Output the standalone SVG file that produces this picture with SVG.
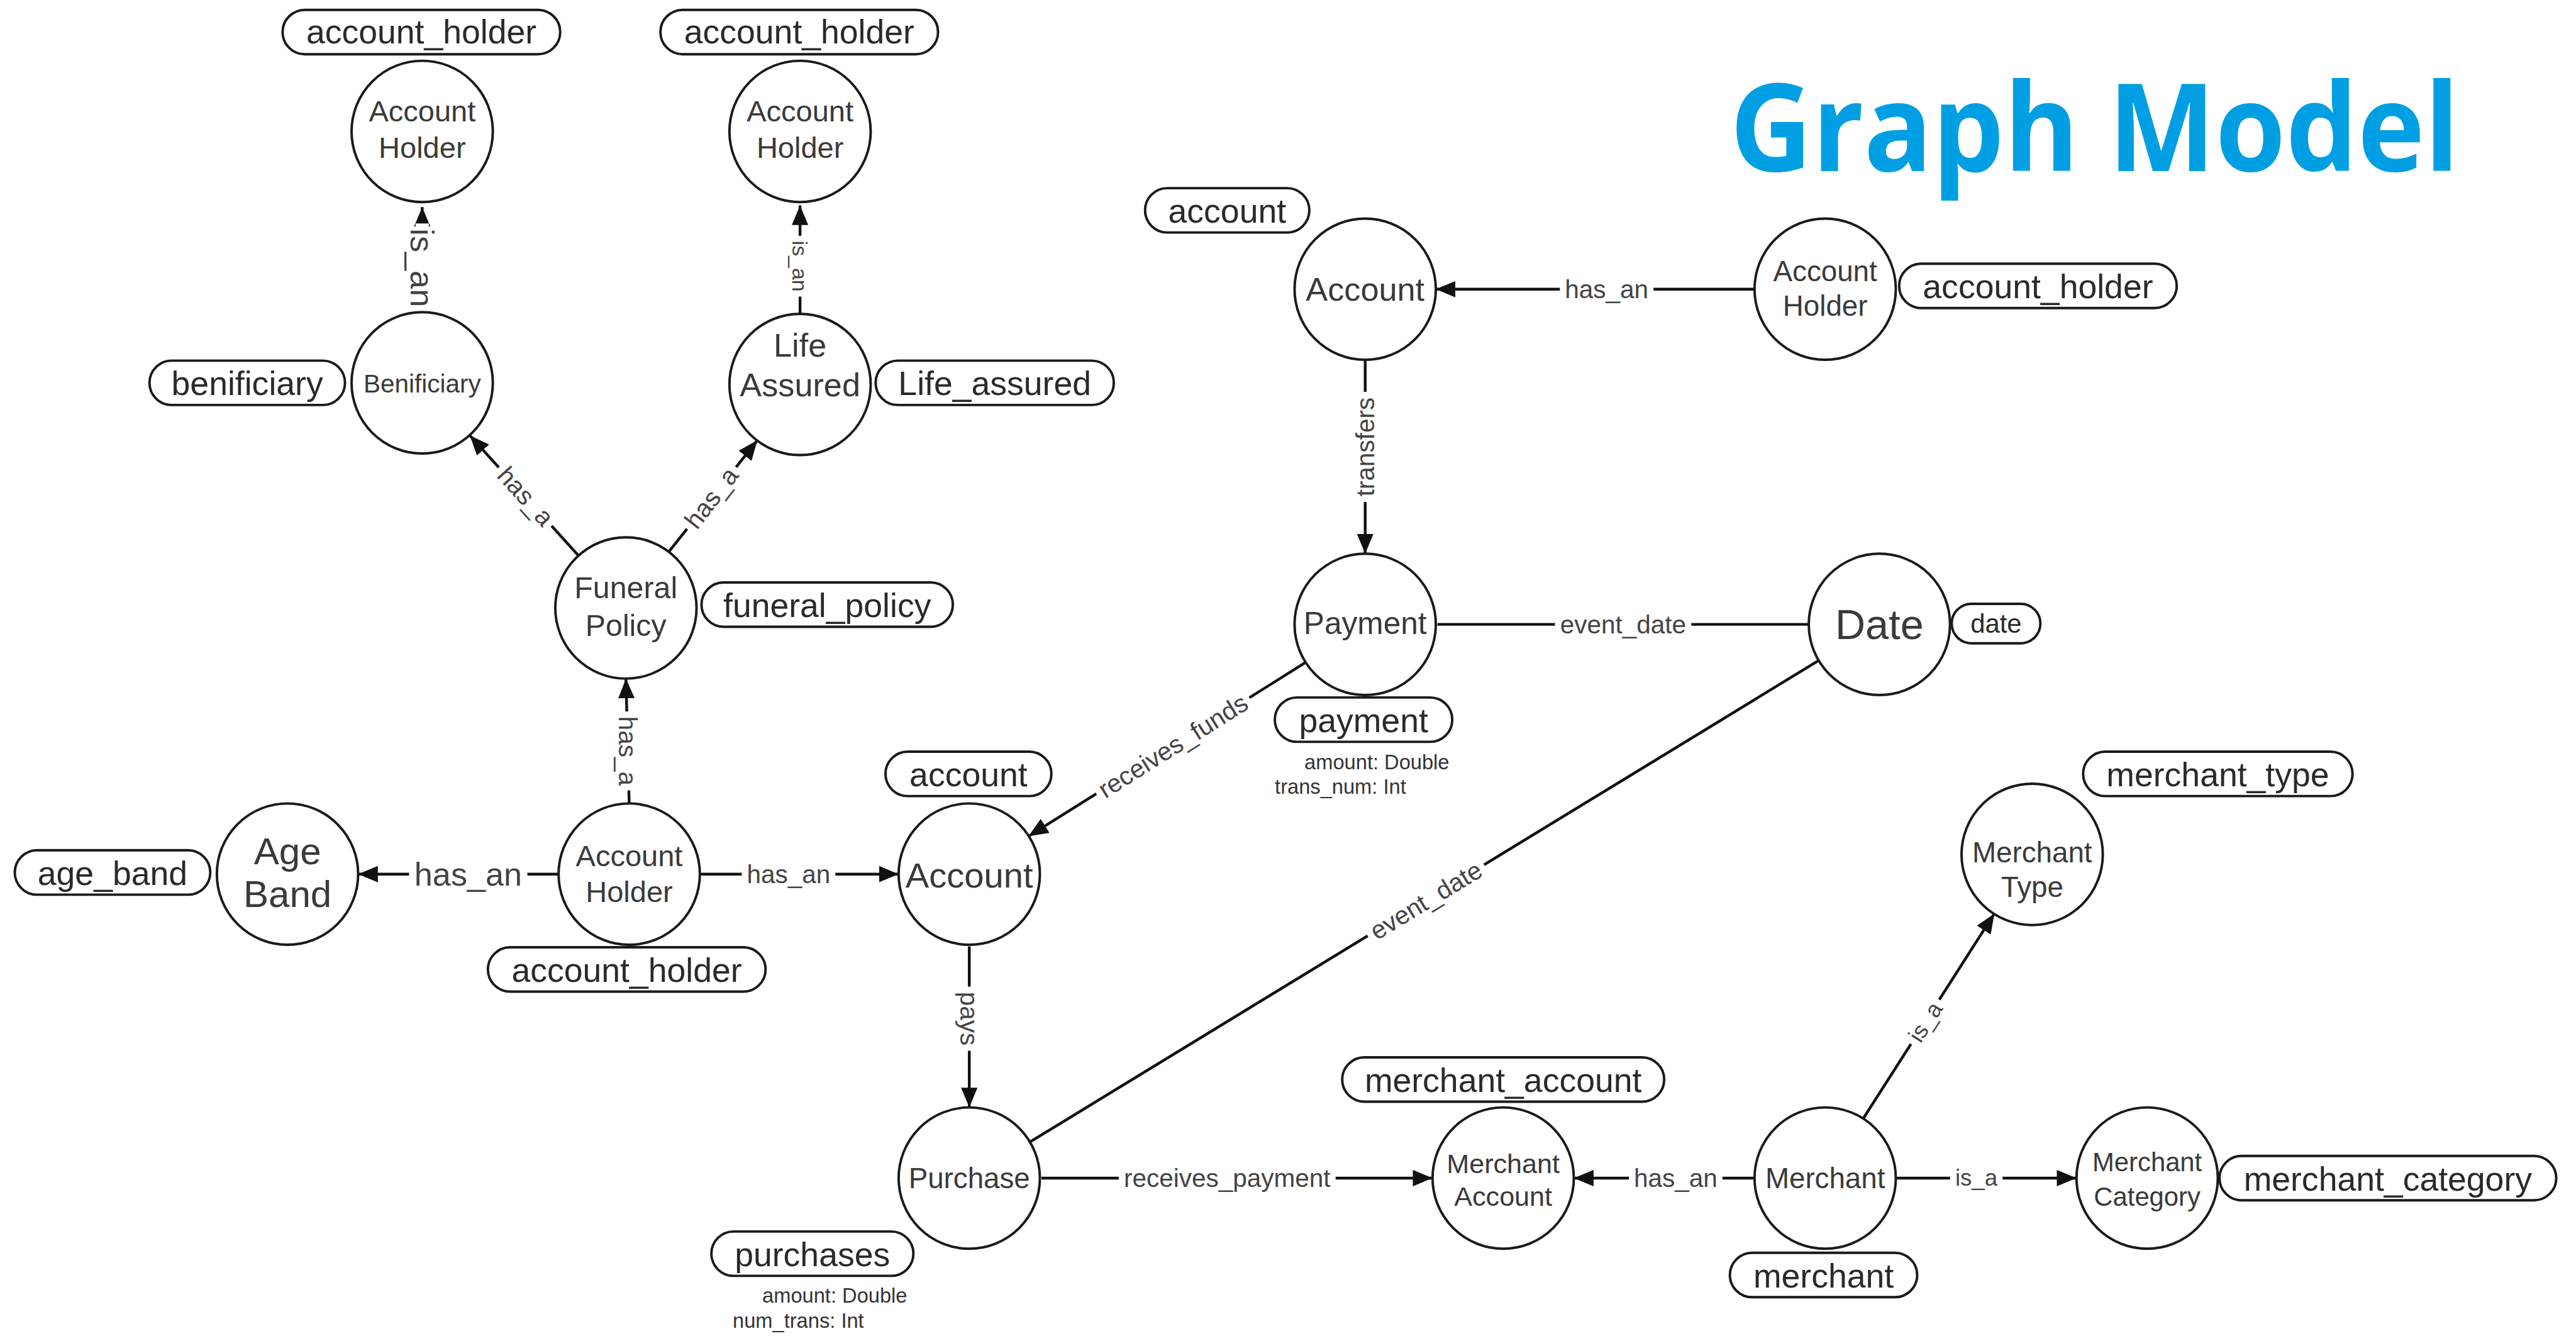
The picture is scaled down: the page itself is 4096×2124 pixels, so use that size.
<svg xmlns="http://www.w3.org/2000/svg" width="4096" height="2124" viewBox="0 0 4096 2124">
<style>
.n{fill:#fff;stroke:#1a1a1a;stroke-width:1.5}
.nt{font-family:"Liberation Sans",Arial,sans-serif;fill:#3a3a3a;text-anchor:middle}
.p{fill:#fff;stroke:#1a1a1a;stroke-width:1.5}
.pt{font-family:"Liberation Sans",Arial,sans-serif;fill:#2a2a2a;text-anchor:middle;font-size:20.5px}
.pr{font-family:"Liberation Sans",Arial,sans-serif;fill:#333;font-size:12.5px}
.e{fill:none;stroke:#111;stroke-width:1.7}
.a{marker-end:url(#arr)}
.lb{fill:#fff}
.el{font-family:"Liberation Sans",Arial,sans-serif;fill:#444;font-size:15.5px;text-anchor:middle;dominant-baseline:central}
.title{font-family:"Open Sans","Noto Sans",sans-serif;font-weight:bold;fill:#009FE3;font-size:74px}
</style>
<defs>
<marker id="arr" viewBox="0 0 12 10" markerWidth="12" markerHeight="10" refX="12" refY="5" orient="auto" markerUnits="userSpaceOnUse">
<path d="M0,0 L12,5 L0,10 Z" fill="#111"/>
</marker>
</defs>
<rect width="4096" height="2124" fill="#fff"/>
<g transform="scale(2.6122)">
<text class="title" x="1053" y="104" textLength="444" lengthAdjust="spacingAndGlyphs">Graph Model</text>

<g id="connectors">
<g id="e-ben-ah1"><path class="e a" d="M257,190 L257,126"/><g transform="translate(257,163) rotate(90)"><rect class="lb" x="-27" y="-4" width="54" height="8"/><text class="el" style="font-size:20px">is_an</text></g></g>
<g id="e-la-ah2"><path class="e a" d="M487,191 L487,125"/><g transform="translate(487,162) rotate(90)"><rect class="lb" x="-18.5" y="-4" width="37" height="8"/><text class="el" style="font-size:13px">is_an</text></g></g>
<g id="e-fp-ben"><path class="e a" d="M352,338 L286,265"/><g transform="translate(320,302) rotate(47.8)"><rect class="lb" x="-24" y="-4" width="48" height="8"/><text class="el">has_a</text></g></g>
<g id="e-fp-la"><path class="e a" d="M407,336 L461,268"/><g transform="translate(433,303) rotate(-52.1)"><rect class="lb" x="-24" y="-4" width="48" height="8"/><text class="el">has_a</text></g></g>
<g id="e-ahm-fp"><path class="e a" d="M383,489 L381,413"/><g transform="translate(382,457) rotate(90)"><rect class="lb" x="-24" y="-4" width="48" height="8"/><text class="el">has_a</text></g></g>
<g id="e-ahm-age"><path class="e a" d="M340,532 L218,532"/><g transform="translate(285,532)"><rect class="lb" x="-36" y="-4" width="72" height="8"/><text class="el" style="font-size:20px">has_an</text></g></g>
<g id="e-ahm-acc"><path class="e a" d="M426,532 L547,532"/><g transform="translate(480,532)"><rect class="lb" x="-28.5" y="-4" width="57" height="8"/><text class="el">has_an</text></g></g>
<g id="e-pay-acc"><path class="e a" d="M795,403 L626,509"/><g transform="translate(714,454) rotate(-32.2)"><rect class="lb" x="-55" y="-4" width="110" height="8"/><text class="el">receives_funds</text></g></g>
<g id="e-acc-pur"><path class="e a" d="M590,576 L590,674"/><g transform="translate(590,620) rotate(90)"><rect class="lb" x="-19.5" y="-4" width="39" height="8"/><text class="el">pays</text></g></g>
<g id="e-pur-date"><path class="e" d="M627,695 L1107,402"/><g transform="translate(868,548) rotate(-31.4)"><rect class="lb" x="-41.5" y="-4" width="83" height="8"/><text class="el">event_date</text></g></g>
<g id="e-pay-date"><path class="e" d="M875,380 L1101,380"/><g transform="translate(988,380)"><rect class="lb" x="-41.5" y="-4" width="83" height="8"/><text class="el">event_date</text></g></g>
<g id="e-acct-pay"><path class="e a" d="M831,219 L831,337"/><g transform="translate(831,272) rotate(-90)"><rect class="lb" x="-33.5" y="-4" width="67" height="8"/><text class="el">transfers</text></g></g>
<g id="e-aht-acct"><path class="e a" d="M1068,176 L874,176"/><g transform="translate(978,176)"><rect class="lb" x="-28.5" y="-4" width="57" height="8"/><text class="el">has_an</text></g></g>
<g id="e-pur-ma"><path class="e a" d="M634,717 L872,717"/><g transform="translate(747,717)"><rect class="lb" x="-66" y="-4" width="132" height="8"/><text class="el">receives_payment</text></g></g>
<g id="e-mer-ma"><path class="e a" d="M1068,717 L958,717"/><g transform="translate(1020,717)"><rect class="lb" x="-28.5" y="-4" width="57" height="8"/><text class="el">has_an</text></g></g>
<g id="e-mer-mc"><path class="e a" d="M1154,717 L1264,717"/><g transform="translate(1203,717)"><rect class="lb" x="-16" y="-4" width="32" height="8"/><text class="el" style="font-size:14px">is_a</text></g></g>
<g id="e-mer-mt"><path class="e a" d="M1134,681 L1214,556"/><g transform="translate(1172,622) rotate(-57.4)"><rect class="lb" x="-16" y="-4" width="32" height="8"/><text class="el" style="font-size:14px">is_a</text></g></g>
</g>

<g id="n-ah1"><circle class="n" cx="257" cy="80" r="43"/><text class="nt" style="font-size:18px"><tspan x="257" y="74">Account</tspan><tspan x="257" y="96">Holder</tspan></text>
<rect class="p" x="172" y="6" width="169" height="27" rx="13.5"/><text class="pt" x="256.5" y="26.5">account_holder</text></g>

<g id="n-ben"><circle class="n" cx="257" cy="233" r="43"/><text class="nt" style="font-size:15.5px" x="257" y="239">Benificiary</text>
<rect class="p" x="91" y="219.5" width="119" height="27" rx="13.5"/><text class="pt" x="150.5" y="240.5">benificiary</text></g>

<g id="n-ah2"><circle class="n" cx="487" cy="80" r="43"/><text class="nt" style="font-size:18px"><tspan x="487" y="74">Account</tspan><tspan x="487" y="96">Holder</tspan></text>
<rect class="p" x="402" y="6" width="169" height="27" rx="13.5"/><text class="pt" x="486.5" y="26.5">account_holder</text></g>

<g id="n-la"><circle class="n" cx="487" cy="234" r="43"/><text class="nt" style="font-size:20px"><tspan x="487" y="217">Life</tspan><tspan x="487" y="241">Assured</tspan></text>
<rect class="p" x="533" y="219.5" width="145" height="27" rx="13.5"/><text class="pt" x="605.5" y="240.5">Life_assured</text></g>

<g id="n-fp"><circle class="n" cx="381" cy="370" r="43"/><text class="nt" style="font-size:18.5px"><tspan x="381" y="364">Funeral</tspan><tspan x="381" y="387">Policy</tspan></text>
<rect class="p" x="427" y="354.5" width="153" height="27" rx="13.5"/><text class="pt" x="503.5" y="375.5">funeral_policy</text></g>

<g id="n-ahm"><circle class="n" cx="383" cy="532" r="43"/><text class="nt" style="font-size:18px"><tspan x="383" y="527">Account</tspan><tspan x="383" y="549">Holder</tspan></text>
<rect class="p" x="297" y="576.5" width="169" height="27" rx="13.5"/><text class="pt" x="381.5" y="597.5">account_holder</text></g>

<g id="n-age"><circle class="n" cx="175" cy="532" r="43"/><text class="nt" style="font-size:23px"><tspan x="175" y="526">Age</tspan><tspan x="175" y="552">Band</tspan></text>
<rect class="p" x="9" y="517.5" width="119" height="27" rx="13.5"/><text class="pt" x="68.5" y="538.5">age_band</text></g>

<g id="n-accm"><circle class="n" cx="590" cy="532" r="43"/><text class="nt" style="font-size:21.5px" x="590" y="540">Account</text>
<rect class="p" x="539" y="457.5" width="101" height="27" rx="13.5"/><text class="pt" x="589.5" y="478.5">account</text></g>

<g id="n-pur"><circle class="n" cx="590" cy="717" r="43"/><text class="nt" style="font-size:17.5px" x="590" y="723">Purchase</text>
<rect class="p" x="433" y="749.5" width="123" height="27" rx="13.5"/><text class="pt" x="494.5" y="770.5">purchases</text>
<text class="pr" x="464" y="793">amount: Double</text><text class="pr" x="446" y="808">num_trans: Int</text></g>

<g id="n-acct"><circle class="n" cx="831" cy="176" r="43"/><text class="nt" style="font-size:20px" x="831" y="183">Account</text>
<rect class="p" x="697" y="114.5" width="100" height="27" rx="13.5"/><text class="pt" x="747" y="135.5">account</text></g>

<g id="n-aht"><circle class="n" cx="1111" cy="176" r="43"/><text class="nt" style="font-size:17.5px"><tspan x="1111" y="171">Account</tspan><tspan x="1111" y="192">Holder</tspan></text>
<rect class="p" x="1156" y="160.5" width="169" height="27" rx="13.5"/><text class="pt" x="1240.5" y="181.5">account_holder</text></g>

<g id="n-pay"><circle class="n" cx="831" cy="380" r="43"/><text class="nt" style="font-size:19px" x="831" y="386">Payment</text>
<rect class="p" x="776" y="424.5" width="108" height="27" rx="13.5"/><text class="pt" x="830" y="445.5">payment</text>
<text class="pr" x="794" y="468">amount: Double</text><text class="pr" x="776" y="483">trans_num: Int</text></g>

<g id="n-date"><circle class="n" cx="1144" cy="380" r="43"/><text class="nt" style="font-size:25.5px" x="1144" y="389">Date</text>
<rect class="p" x="1188" y="367.5" width="54" height="24" rx="12"/><text class="pt" style="font-size:16px" x="1215" y="385">date</text></g>

<g id="n-mt"><circle class="n" cx="1237" cy="520" r="43"/><text class="nt" style="font-size:17.5px"><tspan x="1237" y="525">Merchant</tspan><tspan x="1237" y="546">Type</tspan></text>
<rect class="p" x="1268" y="457.5" width="164" height="27" rx="13.5"/><text class="pt" x="1350" y="478.5">merchant_type</text></g>

<g id="n-ma"><circle class="n" cx="915" cy="717" r="43"/><text class="nt" style="font-size:16.5px"><tspan x="915" y="714">Merchant</tspan><tspan x="915" y="734">Account</tspan></text>
<rect class="p" x="817" y="643.5" width="196" height="27" rx="13.5"/><text class="pt" x="915" y="664.5">merchant_account</text></g>

<g id="n-mer"><circle class="n" cx="1111" cy="717" r="43"/><text class="nt" style="font-size:17.5px" x="1111" y="723">Merchant</text>
<rect class="p" x="1053" y="762.5" width="114" height="27" rx="13.5"/><text class="pt" x="1110" y="783.5">merchant</text></g>

<g id="n-mc"><circle class="n" cx="1307" cy="717" r="43"/><text class="nt" style="font-size:16px"><tspan x="1307" y="713">Merchant</tspan><tspan x="1307" y="734">Category</tspan></text>
<rect class="p" x="1351" y="703.5" width="205" height="27" rx="13.5"/><text class="pt" x="1453.5" y="724.5">merchant_category</text></g>
</g>
</svg>
